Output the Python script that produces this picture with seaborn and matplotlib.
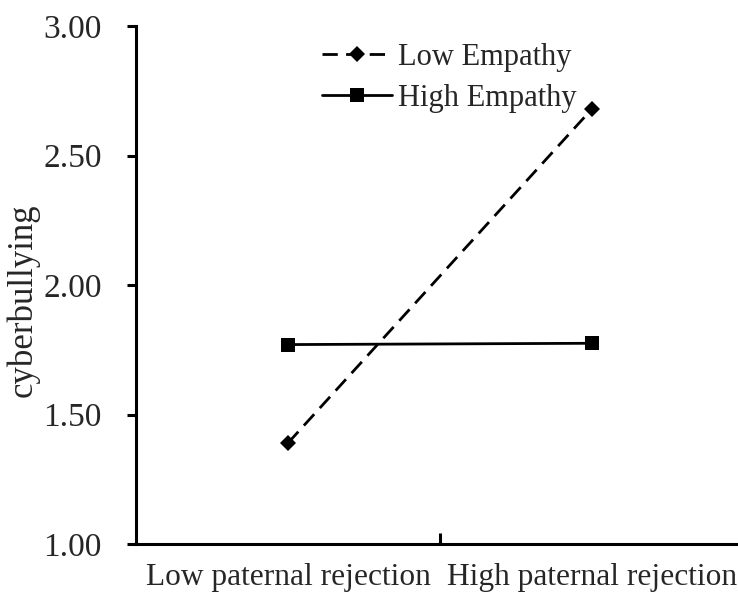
import pandas as pd
import numpy as np
import seaborn as sns
import matplotlib.pyplot as plt

# values
rejection = ["Low paternal rejection", "High paternal rejection"]
low_empathy = [1.39, 2.68]
high_empathy = [1.77, 1.775]
groups = ["Low Empathy", "High Empathy"]

df = pd.DataFrame({
    "rejection": rejection * 2,
    "cyberbullying": low_empathy + high_empathy,
    "group": [groups[0]] * 2 + [groups[1]] * 2,
})

sns.set_style("white")
plt.rcParams["font.family"] = ["Liberation Serif", "DejaVu Serif"]

fig = plt.figure(figsize=(7.38, 5.95), dpi=100)
# axes deliberately runs past the right edge, like the original
ax = fig.add_axes([0.1843, 0.0857, 0.8238, 0.8706])

sns.lineplot(data=df, x="rejection", y="cyberbullying", hue="group", style="group",
             palette={"Low Empathy": "black", "High Empathy": "black"},
             markers={"Low Empathy": "D", "High Empathy": "s"},
             dashes={"Low Empathy": (5.5, 3), "High Empathy": ""},
             markersize=10.5, linewidth=2, markeredgewidth=0, ax=ax)
for ln in ax.lines:
    if ln.get_marker() == "D":
        ln.set_markersize(8)

ax.set_xlim(-0.5, 1.5)
ax.set_ylim(1.0, 3.0)
yt = np.arange(1.0, 3.01, 0.5)
ax.set_yticks(yt)
ax.set_yticklabels([f"{v:.2f}" for v in yt], fontsize=24)
ax.set_xticks([0, 1])
ax.set_xticklabels(rejection, fontsize=22.6)
ax.set_xticks([0.5], minor=True)
ax.tick_params(axis="x", which="major", length=0, pad=14)
ax.tick_params(axis="x", which="minor", bottom=True, direction="in", length=8, width=2.2, color="black")
ax.tick_params(axis="y", direction="out", length=6.5, width=2.2, color="black", left=True, pad=18)
ax.set_xlabel("")
ax.set_ylabel("cyberbullying", fontsize=25)
ax.yaxis.set_label_coords(-0.158, 0.471)

for s in ["top", "right"]:
    ax.spines[s].set_visible(False)
for s in ["left", "bottom"]:
    ax.spines[s].set_color("black")
    ax.spines[s].set_linewidth(2.2)

ax.legend(frameon=False, fontsize=22, loc="upper left",
          bbox_to_anchor=(0.4196, 0.948), bbox_transform=fig.transFigure,
          handlelength=2.3, handletextpad=0.2, labelspacing=0.38, borderaxespad=0)

fig.savefig("out.png", dpi=100)
